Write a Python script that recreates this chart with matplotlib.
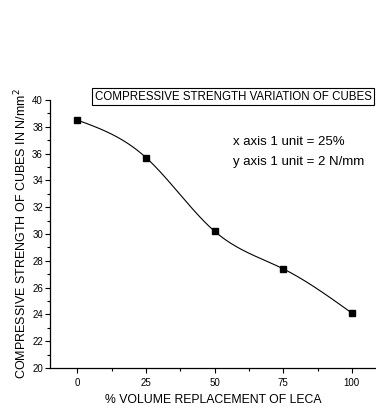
#!/usr/bin/env python
# -*- coding: utf-8 -*-

import numpy as np
import matplotlib
matplotlib.use('Agg')
import matplotlib.pyplot as plt
from matplotlib.ticker import MultipleLocator

# data
replacement = [0, 25, 50, 75, 100]
strength = [38.5, 35.7, 30.2, 27.4, 24.1]


def natural_spline(px, py, res=200):
    """Natural cubic spline through the support points (for the smooth line)."""
    px = np.asarray(px, float)
    py = np.asarray(py, float)
    n = len(px)
    h = np.diff(px)
    A = np.zeros((n, n))
    b = np.zeros(n)
    A[0, 0] = A[-1, -1] = 1.
    for i in range(1, n - 1):
        A[i, i - 1] = h[i - 1]
        A[i, i] = 2. * (h[i - 1] + h[i])
        A[i, i + 1] = h[i]
        b[i] = 3. * ((py[i + 1] - py[i]) / h[i] - (py[i] - py[i - 1]) / h[i - 1])
    c = np.linalg.solve(A, b)
    xs, ys = [], []
    for i in range(n - 1):
        bi = (py[i + 1] - py[i]) / h[i] - h[i] * (2 * c[i] + c[i + 1]) / 3.
        di = (c[i + 1] - c[i]) / (3. * h[i])
        t = np.linspace(0., h[i], res, endpoint=(i == n - 2))
        xs.append(px[i] + t)
        ys.append(py[i] + bi * t + c[i] * t ** 2 + di * t ** 3)
    return np.concatenate(xs), np.concatenate(ys)


plt.rcParams['font.family'] = ['Liberation Sans', 'DejaVu Sans']

fig = plt.figure(figsize=(3.76, 4.09), dpi=100)
ax = fig.add_axes([50 / 376, 41 / 409, 326 / 376, 268 / 409])

s_x, s_y = natural_spline(replacement, strength)
ax.plot(s_x, s_y, color='black', lw=0.8)
ax.plot(replacement, strength, ls='none', marker='s', ms=4.0, color='black')

ax.set_xlim(-10, 108.8)
ax.set_ylim(20, 40)
ax.xaxis.set_major_locator(MultipleLocator(25))
ax.xaxis.set_minor_locator(MultipleLocator(12.5))
ax.yaxis.set_major_locator(MultipleLocator(2))
ax.yaxis.set_minor_locator(MultipleLocator(1))
ax.tick_params(which='major', direction='out', length=3.5, width=0.8,
               labelsize=7)
ax.tick_params(axis='y', pad=1.5)
ax.tick_params(axis='x', pad=4)
ax.tick_params(which='minor', direction='out', length=2, width=0.8)

for side in ['top', 'right']:
    ax.spines[side].set_visible(False)
for side in ['left', 'bottom']:
    ax.spines[side].set_linewidth(0.9)

ax.set_xlabel('% VOLUME REPLACEMENT OF LECA', fontsize=8.8, labelpad=4)
ax.set_ylabel('COMPRESSIVE STRENGTH OF CUBES IN N/mm$^2$', fontsize=9,
              labelpad=2)

fig.text(233 / 376, 1 - 96.5 / 409, 'COMPRESSIVE STRENGTH VARIATION OF CUBES',
         fontsize=8.3, ha='center', va='center',
         bbox=dict(boxstyle='square,pad=0.25', fc='white', ec='black', lw=0.8))
ax.text(0.561, 0.843, 'x axis 1 unit = 25%', transform=ax.transAxes,
        fontsize=9.5, ha='left', va='center')
ax.text(0.561, 0.769, 'y axis 1 unit = 2 N/mm', transform=ax.transAxes,
        fontsize=9.5, ha='left', va='center')

fig.savefig('out.png', dpi=100)
